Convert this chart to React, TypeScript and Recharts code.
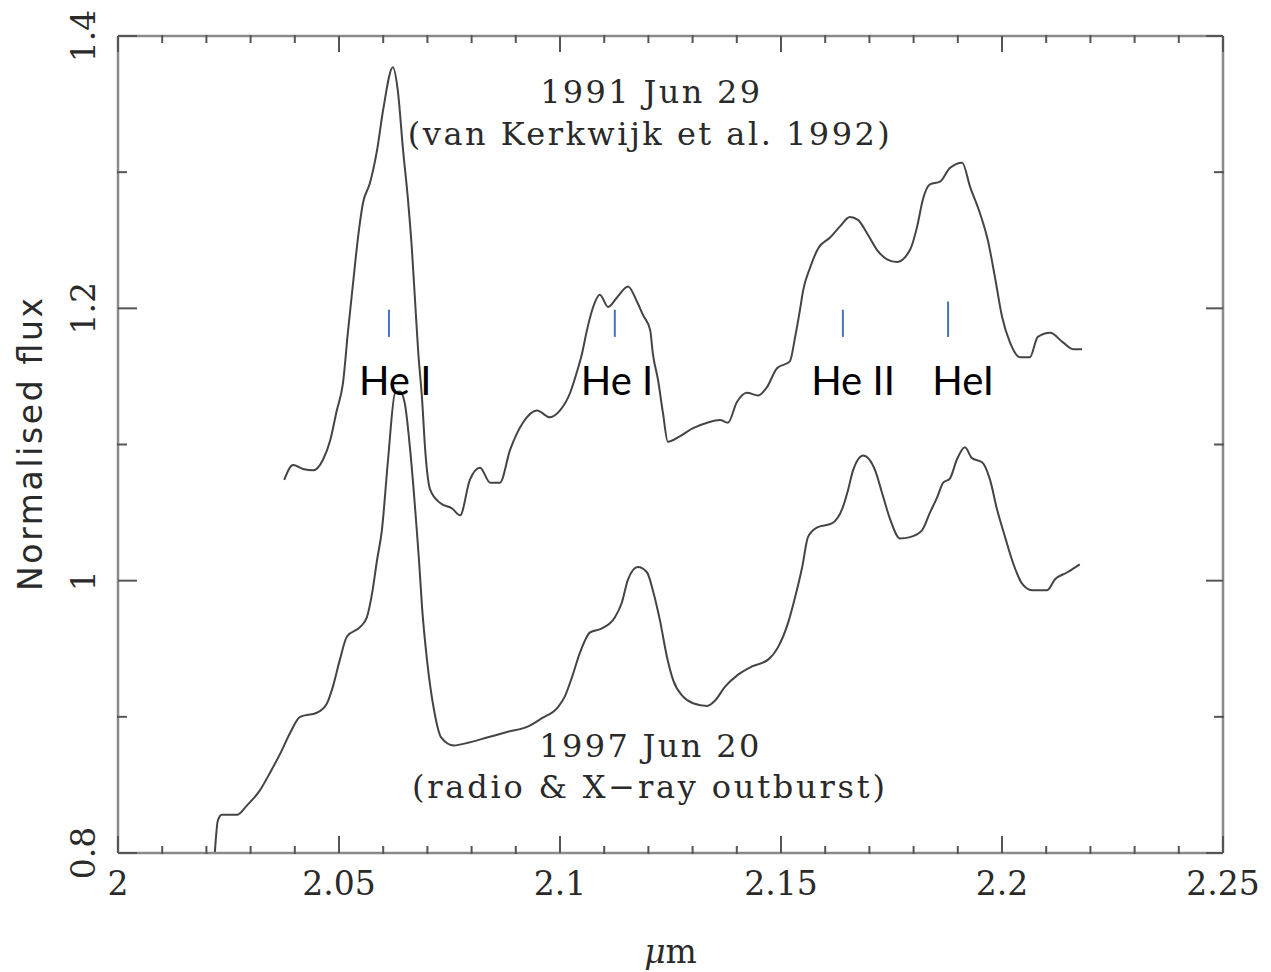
import React from "react"
import { LineChart, Line, XAxis, YAxis, ReferenceLine, ReferenceDot } from "recharts"

// 1991 Jun 29 spectrum (van Kerkwijk et al. 1992)
const wave1991 = [
  2.0376, 2.0396, 2.0419, 2.0441, 2.0464, 2.048, 2.0495, 2.0509, 2.052, 2.0532, 2.0543, 2.0554, 2.057, 2.0586,
  2.06, 2.0622, 2.0633, 2.0645, 2.0656, 2.0665, 2.0672, 2.0679, 2.0688, 2.0695, 2.0706, 2.0729, 2.0756, 2.0774,
  2.0796, 2.0819, 2.0842, 2.0864, 2.0887, 2.0916, 2.0948, 2.0977, 2.1, 2.1023, 2.1038, 2.105, 2.1061, 2.1075,
  2.109, 2.1109, 2.1129, 2.1154, 2.1174, 2.1188, 2.1204, 2.121, 2.1222, 2.1233, 2.1244, 2.1271, 2.1301, 2.1333,
  2.1362, 2.138, 2.14, 2.1423, 2.1448, 2.1468, 2.1491, 2.152, 2.1532, 2.1543, 2.155, 2.1566, 2.1584, 2.1611,
  2.1633, 2.1656, 2.1674, 2.1695, 2.1717, 2.174, 2.1762, 2.1792, 2.1808, 2.1821, 2.1837, 2.186, 2.1882, 2.191,
  2.1928, 2.195, 2.1968, 2.1984, 2.2, 2.2018, 2.2041, 2.2063, 2.2081, 2.2109, 2.2138, 2.2161, 2.2181,
]
const flux1991 = [
  1.074, 1.085, 1.082, 1.081, 1.089, 1.103, 1.125, 1.145, 1.182, 1.219, 1.252, 1.277, 1.292, 1.316,
  1.346, 1.377, 1.36, 1.316, 1.28, 1.243, 1.206, 1.169, 1.133, 1.096, 1.067, 1.057, 1.053, 1.048,
  1.074, 1.083, 1.072, 1.072, 1.096, 1.116, 1.125, 1.12, 1.125, 1.138, 1.153, 1.167, 1.184, 1.201,
  1.21, 1.201, 1.208, 1.216, 1.205, 1.195, 1.184, 1.167, 1.147, 1.123, 1.102, 1.106, 1.112, 1.116,
  1.118, 1.116, 1.131, 1.138, 1.136, 1.142, 1.156, 1.161, 1.179, 1.199, 1.213, 1.23, 1.244, 1.252,
  1.26, 1.267, 1.265, 1.255, 1.243, 1.236, 1.234, 1.243, 1.26, 1.28, 1.291, 1.293, 1.303, 1.307,
  1.289, 1.27, 1.25, 1.223, 1.194, 1.175, 1.164, 1.164, 1.179, 1.182, 1.175, 1.17, 1.17,
]

// 1997 Jun 20 spectrum (radio & X-ray outburst)
const wave1997 = [
  2.0219, 2.0226, 2.0235, 2.0269, 2.0292, 2.0321, 2.0344, 2.0367, 2.0389, 2.0412, 2.045, 2.0473, 2.0486, 2.0502,
  2.0518, 2.0548, 2.0563, 2.0575, 2.0586, 2.0597, 2.0611, 2.0627, 2.0638, 2.0649, 2.0661, 2.0676, 2.0681, 2.0688,
  2.0699, 2.0715, 2.0731, 2.076, 2.0792, 2.0837, 2.0882, 2.0928, 2.0959, 2.0995, 2.1011, 2.1027, 2.1045, 2.1068,
  2.1095, 2.1124, 2.114, 2.1154, 2.1176, 2.1197, 2.121, 2.1226, 2.1242, 2.1256, 2.1278, 2.1301, 2.1333, 2.1351,
  2.1373, 2.1403, 2.1434, 2.1471, 2.1493, 2.1516, 2.1532, 2.1548, 2.1561, 2.1581, 2.1615, 2.164, 2.1652, 2.1663,
  2.1686, 2.1713, 2.1729, 2.1747, 2.1769, 2.1792, 2.1819, 2.1837, 2.1853, 2.1867, 2.1882, 2.1898, 2.1916, 2.1932,
  2.1955, 2.1973, 2.1989, 2.2007, 2.2025, 2.2045, 2.2068, 2.2102, 2.212, 2.2147, 2.2176,
]
const flux1997 = [
  0.8, 0.824, 0.828, 0.828, 0.835, 0.846, 0.859, 0.873, 0.888, 0.9, 0.903, 0.91, 0.922, 0.942,
  0.959, 0.966, 0.973, 0.991, 1.015, 1.037, 1.089, 1.138, 1.139, 1.13, 1.096, 1.037, 1.015, 0.98,
  0.942, 0.905, 0.885, 0.879, 0.881, 0.885, 0.889, 0.893, 0.899, 0.907, 0.915, 0.929, 0.947, 0.962,
  0.965, 0.973, 0.984, 1.001, 1.01, 1.006, 0.993, 0.971, 0.944, 0.927, 0.915, 0.91, 0.908, 0.912,
  0.922, 0.931, 0.937, 0.942, 0.951, 0.969, 0.988, 1.01, 1.032, 1.039, 1.042, 1.054, 1.067, 1.081,
  1.092, 1.081, 1.064, 1.045, 1.031, 1.032, 1.037, 1.05, 1.061, 1.072, 1.075, 1.089, 1.098, 1.09,
  1.087, 1.074, 1.052, 1.032, 1.013, 0.998, 0.993, 0.993, 1.001, 1.006, 1.012,
]

const xMajorTicks = [2, 2.05, 2.1, 2.15, 2.2, 2.25]
const xMinorTicks = [
  2.01, 2.02, 2.03, 2.04, 2.06, 2.07, 2.08, 2.09, 2.11, 2.12, 2.13, 2.14,
  2.16, 2.17, 2.18, 2.19, 2.21, 2.22, 2.23, 2.24,
]
const yMajorTicks = [0.8, 1, 1.2, 1.4]
const yMinorTicks = [0.9, 1.1, 1.3]

// helium line marks
const lineNames = ["He I", "He I", "He II", "HeI"]
const lineWave = [2.0613, 2.1124, 2.164, 2.1878]
const markLow = [1.179, 1.179, 1.179, 1.179]
const markHigh = [1.199, 1.199, 1.199, 1.205]
const nameWave = [2.0627, 2.1129, 2.1663, 2.1912]
const nameFlux = 1.1364

// epoch notes
const noteText = ["1991 Jun 29", "(van Kerkwijk et al. 1992)", "1997 Jun 20", "(radio & X\u2212ray outburst)"]
const noteWave = [2.1204, 2.1201, 2.1202, 2.12]
const noteFlux = [1.3508, 1.32, 0.8705, 0.8404]
const noteWidth = [220, 482, 220, 473]

const data1991 = wave1991.map((x, i) => ({ x, y: flux1991[i] }))
const data1997 = wave1997.map((x, i) => ({ x, y: flux1997[i] }))

const serif = "'DejaVu Serif', serif"
const ink = "#2a2a2a"
const frame = { stroke: "#8a8a8a", strokeWidth: 2.5 }

type Side = "bottom" | "top" | "left" | "right"

// inward tick mark, with the number for the labelled bottom / left axes
const makeTick = (side: Side, len: number, labelled: boolean) => (props: any) => {
  const { x, y, payload } = props
  let x2 = x
  let y2 = y
  if (side === "bottom") y2 = y - len
  if (side === "top") y2 = y + len
  if (side === "left") x2 = x + len
  if (side === "right") x2 = x - len
  let label = null
  if (labelled && side === "bottom") {
    label = (
      <text x={x} y={y + 42} textAnchor="middle" fontFamily={serif} fontSize={33} fill={ink}>
        {String(payload.value)}
      </text>
    )
  }
  if (labelled && side === "left") {
    const tx = x - 23
    label = (
      <text x={tx} y={y} transform={`rotate(-90 ${tx} ${y})`} textAnchor="middle" fontFamily={serif} fontSize={33} fill={ink}>
        {String(payload.value)}
      </text>
    )
  }
  return (
    <g>
      <line x1={x} y1={y} x2={x2} y2={y2} stroke="#555" strokeWidth={2} />
      {label}
    </g>
  )
}

const XTitle = (props: any) => {
  const { viewBox } = props
  const cx = viewBox.x + viewBox.width / 2
  return (
    <text x={cx} y={viewBox.y + 110} textAnchor="middle" fontFamily={serif} fontSize={33} fill={ink}>
      <tspan fontStyle="italic">μ</tspan>m
    </text>
  )
}

const YTitle = (props: any) => {
  const { viewBox } = props
  const cx = viewBox.x + viewBox.width - 76
  const cy = viewBox.y + viewBox.height / 2
  return (
    <text
      x={cx}
      y={cy}
      transform={`rotate(-90 ${cx} ${cy})`}
      textAnchor="middle"
      fontFamily="'DejaVu Sans', sans-serif"
      fontSize={33}
      fill={ink}
      textLength={293}
      lengthAdjust="spacing"
    >
      Normalised flux
    </text>
  )
}

const noteLabel = (text: string, width: number) => (props: any) => {
  const { viewBox } = props
  return (
    <text
      x={viewBox.x}
      y={viewBox.y}
      textAnchor="middle"
      fontFamily={serif}
      fontSize={32}
      fill={ink}
      textLength={width}
      lengthAdjust="spacing"
    >
      {text}
    </text>
  )
}

const nameLabel = (text: string) => (props: any) => {
  const { viewBox } = props
  return (
    <text x={viewBox.x} y={viewBox.y} textAnchor="middle" fontFamily="Lato, 'Open Sans', sans-serif" fontSize={40} fill="#000">
      {text}
    </text>
  )
}

export default function App() {
  return (
    <div style={{ position: "absolute", left: 0, top: 0, width: 1271, height: 972, background: "#fff" }}>
      <LineChart width={1271} height={972} margin={{ top: 34, right: 46, bottom: 117, left: 116 }}>
        <XAxis
          xAxisId="x"
          type="number"
          dataKey="x"
          domain={[2, 2.25]}
          allowDataOverflow
          ticks={xMajorTicks}
          interval={0}
          height={1}
          tickSize={0}
          tickMargin={0}
          axisLine={frame}
          tickLine={false}
          tick={makeTick("bottom", 17, true)}
          label={<XTitle />}
        />
        <XAxis
          xAxisId="xMinor"
          type="number"
          dataKey="x"
          domain={[2, 2.25]}
          allowDataOverflow
          ticks={xMinorTicks}
          interval={0}
          height={1}
          tickSize={0}
          tickMargin={0}
          axisLine={false}
          tickLine={false}
          tick={makeTick("bottom", 8, false)}
        />
        <XAxis
          xAxisId="xTop"
          orientation="top"
          type="number"
          dataKey="x"
          domain={[2, 2.25]}
          allowDataOverflow
          ticks={xMajorTicks}
          interval={0}
          height={1}
          tickSize={0}
          tickMargin={0}
          axisLine={frame}
          tickLine={false}
          tick={makeTick("top", 16, false)}
        />
        <XAxis
          xAxisId="xTopMinor"
          orientation="top"
          type="number"
          dataKey="x"
          domain={[2, 2.25]}
          allowDataOverflow
          ticks={xMinorTicks}
          interval={0}
          height={1}
          tickSize={0}
          tickMargin={0}
          axisLine={false}
          tickLine={false}
          tick={makeTick("top", 8, false)}
        />
        <YAxis
          yAxisId="y"
          type="number"
          domain={[0.8, 1.4]}
          allowDataOverflow
          ticks={yMajorTicks}
          interval={0}
          width={1}
          tickSize={0}
          tickMargin={0}
          axisLine={frame}
          tickLine={false}
          tick={makeTick("left", 19, true)}
          label={<YTitle />}
        />
        <YAxis
          yAxisId="yMinor"
          type="number"
          domain={[0.8, 1.4]}
          allowDataOverflow
          ticks={yMinorTicks}
          interval={0}
          width={1}
          tickSize={0}
          tickMargin={0}
          axisLine={false}
          tickLine={false}
          tick={makeTick("left", 10, false)}
        />
        <YAxis
          yAxisId="yRight"
          orientation="right"
          type="number"
          domain={[0.8, 1.4]}
          allowDataOverflow
          ticks={yMajorTicks}
          interval={0}
          width={1}
          tickSize={0}
          tickMargin={0}
          axisLine={frame}
          tickLine={false}
          tick={makeTick("right", 17, false)}
        />
        <YAxis
          yAxisId="yRightMinor"
          orientation="right"
          type="number"
          domain={[0.8, 1.4]}
          allowDataOverflow
          ticks={yMinorTicks}
          interval={0}
          width={1}
          tickSize={0}
          tickMargin={0}
          axisLine={false}
          tickLine={false}
          tick={makeTick("right", 10, false)}
        />

        <Line
          xAxisId="x"
          yAxisId="y"
          data={data1991}
          dataKey="y"
          type="monotone"
          stroke="#444"
          strokeWidth={2}
          dot={false}
          activeDot={false}
          isAnimationActive={false}
        />
        <Line
          xAxisId="x"
          yAxisId="y"
          data={data1997}
          dataKey="y"
          type="monotone"
          stroke="#444"
          strokeWidth={2}
          dot={false}
          activeDot={false}
          isAnimationActive={false}
        />

        {lineWave.map((w, i) => (
          <ReferenceLine
            key={`mark-${i}`}
            xAxisId="x"
            yAxisId="y"
            segment={[
              { x: w, y: markLow[i] },
              { x: w, y: markHigh[i] },
            ]}
            stroke="#4472C4"
            strokeWidth={2}
          />
        ))}
        {lineNames.map((name, i) => (
          <ReferenceDot
            key={`name-${i}`}
            xAxisId="x"
            yAxisId="y"
            x={nameWave[i]}
            y={nameFlux}
            r={0}
            fill="none"
            stroke="none"
            label={nameLabel(name)}
          />
        ))}
        {noteText.map((text, i) => (
          <ReferenceDot
            key={`note-${i}`}
            xAxisId="x"
            yAxisId="y"
            x={noteWave[i]}
            y={noteFlux[i]}
            r={0}
            fill="none"
            stroke="none"
            label={noteLabel(text, noteWidth[i])}
          />
        ))}
      </LineChart>
    </div>
  )
}
